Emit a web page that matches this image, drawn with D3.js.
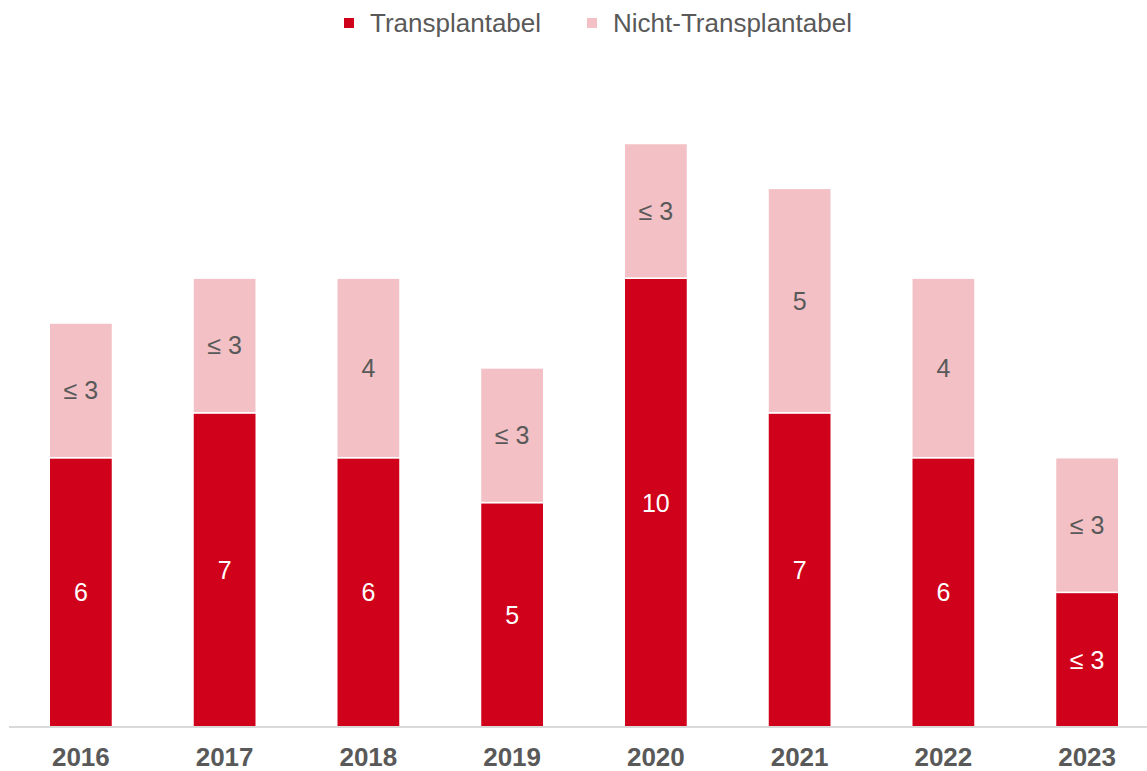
<!DOCTYPE html>
<html><head><meta charset="utf-8">
<script src="https://cdn.jsdelivr.net/npm/d3@7"></script>
<style>body{margin:0;background:#fff}svg{display:block;font-family:Arial,"Liberation Sans",sans-serif}</style>
</head><body><svg id="c" width="1147" height="771"></svg>
<script>
const years = ["2016","2017","2018","2019","2020","2021","2022","2023"];
const transplantabel = [6,7,6,5,10,7,6,3];
const nichtTransplantabel = [3,3,4,3,3,5,4,3];
const transplantabelLabels = ["6","7","6","5","10","7","6","≤ 3"];
const nichtTransplantabelLabels = ["≤ 3","≤ 3","4","≤ 3","≤ 3","5","4","≤ 3"];
const seriesNames = ["Transplantabel","Nicht-Transplantabel"];
const colors = ["#d0021b","#f2c0c5"];

const svg = d3.select("#c");
const x = d3.scaleBand().domain(years).range([9,1159]).paddingInner(0.56).paddingOuter(0.28);
const y = d3.scaleLinear().domain([0,13]).range([727,143.5]);

const rows = years.map((yr,i)=>({yr, segs:[
  {y0:0,y1:transplantabel[i],label:transplantabelLabels[i],c:colors[0],tc:"#ffffff"},
  {y0:transplantabel[i],y1:transplantabel[i]+nichtTransplantabel[i],label:nichtTransplantabelLabels[i],c:colors[1],tc:"#595959"}
]}));

const g = svg.append("g");
rows.forEach(r=>{
  r.segs.forEach(s=>{
    g.append("rect").attr("x",x(r.yr)).attr("width",x.bandwidth())
      .attr("y",y(s.y1)).attr("height",y(s.y0)-y(s.y1))
      .attr("fill",s.c).attr("stroke","#fff").attr("stroke-width",1.5);
    g.append("text").attr("x",x(r.yr)+x.bandwidth()/2).attr("y",(y(s.y0)+y(s.y1))/2)
      .attr("text-anchor","middle").attr("dominant-baseline","central")
      .attr("fill",s.tc).attr("font-size",25).text(s.label);
  });
});

// axis
const ax = svg.append("g").attr("transform","translate(0,727)").call(d3.axisBottom(x).tickSize(0).tickPadding(21));
ax.select(".domain").attr("stroke","#d9d9d9").attr("stroke-width",2).attr("d","M9,0H1147");
ax.selectAll("text").attr("font-size",26).attr("font-weight","bold").attr("fill","#595959").attr("font-family","Arial,'Liberation Sans',sans-serif");

// legend
const leg = svg.append("g");
const legX = [344,587];
seriesNames.forEach((n,i)=>{
  leg.append("rect").attr("x",legX[i]).attr("y",18).attr("width",10).attr("height",10).attr("fill",colors[i]);
  leg.append("text").attr("x",legX[i]+26).attr("y",23).attr("dominant-baseline","central")
    .attr("font-size",26).attr("fill","#595959").text(n);
});
</script></body></html>
